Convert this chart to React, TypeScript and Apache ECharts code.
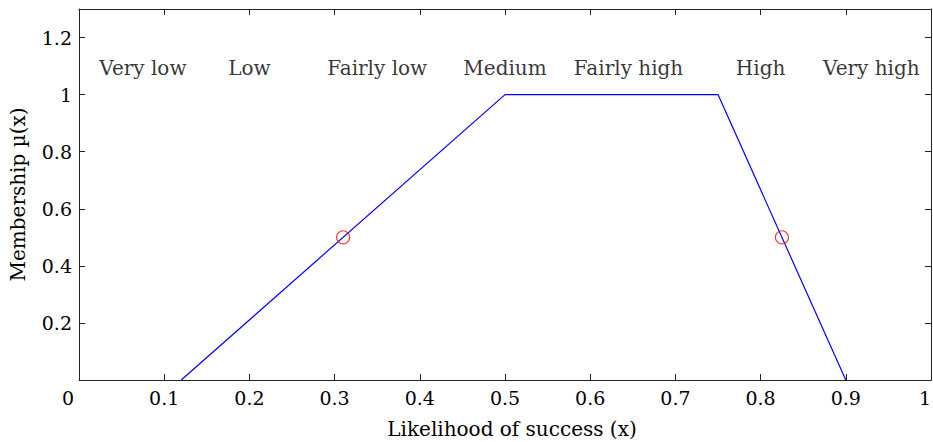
import React, { useEffect, useRef } from "react";
import * as echarts from "echarts";

const membershipCurve: [number, number][] = [
  [0.12, 0],
  [0.5, 1],
  [0.75, 1],
  [0.9, 0],
];
const markedPoints: [number, number][] = [
  [0.31, 0.5],
  [0.825, 0.5],
];
const categoryNames = ["Very low", "Low", "Fairly low", "Medium", "Fairly high", "High", "Very high"];
const categoryX = [0.075, 0.2, 0.35, 0.5, 0.645, 0.8, 0.93];
const categoryY = 1.095;

const FONT = "DejaVu Serif";
const FS = 19;
const FS_BIG = 20;
const AXIS_COLOR = "#222";
const TEXT_COLOR = "#000";

export default function App() {
  const ref = useRef<HTMLDivElement>(null);
  useEffect(() => {
    if (!ref.current) return;
    const chart = echarts.init(ref.current, undefined, { renderer: "svg" });
    const axisCommon = {
      axisLine: { show: true, onZero: false, lineStyle: { color: AXIS_COLOR, width: 1 } },
      axisTick: { show: true, inside: true, length: 6, lineStyle: { color: AXIS_COLOR, width: 1 } },
      splitLine: { show: false },
    };
    chart.setOption({
      animation: false,
      textStyle: { fontFamily: FONT },
      grid: { left: 79, top: 9, right: 2, bottom: 62, containLabel: false, outerBoundsMode: "none" },
      xAxis: [
        {
          type: "value",
          min: 0,
          max: 1,
          interval: 0.1,
          position: "bottom",
          ...axisCommon,
          axisLabel: {
            color: TEXT_COLOR,
            fontFamily: FONT,
            fontSize: FS,
            margin: 8,
            alignMaxLabel: "right",
            formatter: (v: number) => (v === 0 ? "{z|0}" : String(Math.round(v * 10) / 10)),
            rich: { z: { fontFamily: FONT, fontSize: FS, color: TEXT_COLOR, padding: [0, 22, 0, 0] } },
          },
          name: "Likelihood of success (x)",
          nameLocation: "middle",
          nameGap: 39,
          nameTextStyle: { color: TEXT_COLOR, fontFamily: FONT, fontSize: FS_BIG, padding: [0, 0, 0, 14] },
        },
        {
          type: "value",
          min: 0,
          max: 1,
          interval: 0.1,
          position: "top",
          ...axisCommon,
          axisLabel: { show: false },
        },
      ],
      yAxis: [
        {
          type: "value",
          min: 0,
          max: 1.3,
          interval: 0.2,
          position: "left",
          ...axisCommon,
          axisLabel: {
            color: TEXT_COLOR,
            fontFamily: FONT,
            fontSize: FS,
            margin: 7,
            formatter: (v: number) => {
              const r = Math.round(v * 10) / 10;
              if (r === 0 || Math.abs(r * 5 - Math.round(r * 5)) > 1e-6) return "";
              return String(r);
            },
          },
          name: "Membership µ(x)",
          nameLocation: "middle",
          nameGap: 51,
          nameRotate: 90,
          nameTextStyle: { color: TEXT_COLOR, fontFamily: FONT, fontSize: FS_BIG },
        },
        {
          type: "value",
          min: 0,
          max: 1.3,
          interval: 0.2,
          position: "right",
          ...axisCommon,
          axisLabel: { show: false },
        },
      ],
      series: [
        {
          type: "line",
          data: membershipCurve,
          showSymbol: false,
          symbol: "none",
          lineStyle: { color: "#0000ff", width: 1.2 },
          z: 3,
        },
        {
          type: "scatter",
          data: markedPoints,
          symbol: "circle",
          symbolSize: 13,
          itemStyle: { color: "rgba(0,0,0,0)", borderColor: "#ff0000", borderWidth: 1.2 },
          z: 4,
        },
        {
          type: "scatter",
          data: categoryNames.map((n, i) => ({ name: n, value: [categoryX[i], categoryY] })),
          symbolSize: 0,
          label: {
            show: true,
            position: "inside",
            formatter: (p: any) => p.name,
            color: TEXT_COLOR,
            fontFamily: FONT,
            fontSize: FS_BIG,
          },
          z: 5,
        },
      ],
    });
    return () => chart.dispose();
  }, []);
  return (
    <div
      ref={ref}
      style={{ position: "fixed", left: 0, top: 0, width: 933, height: 442, background: "#fff" }}
    />
  );
}
